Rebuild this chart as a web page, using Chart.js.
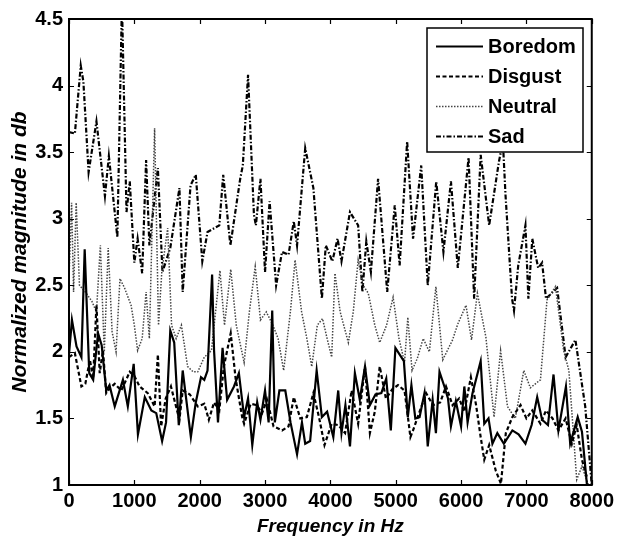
<!DOCTYPE html>
<html>
<head>
<meta charset="utf-8">
<script src="https://cdn.jsdelivr.net/npm/chart.js@4.4.0/dist/chart.umd.min.js"></script>
<style>
  html, body { margin: 0; padding: 0; background: #fff; }
  canvas { display: block; }
</style>
</head>
<body>
<canvas id="chart" width="618" height="541"></canvas>
<script>
// axis ticks
const xTicks = [0, 1000, 2000, 3000, 4000, 5000, 6000, 7000, 8000];
const yTicks = [1, 1.5, 2, 2.5, 3, 3.5, 4, 4.5];

// Boredom (solid)
const boredomFreq = [0, 45, 115, 190, 240, 310, 370, 445, 500, 570, 620, 700, 825, 900, 990, 1055, 1160, 1260, 1335, 1425,
  1485, 1550, 1610, 1680, 1740, 1790, 1865, 1940, 2020, 2070, 2120, 2190, 2220, 2280, 2350, 2420, 2525, 2600, 2680, 2740,
  2805, 2880, 2930, 3000, 3055, 3110, 3150, 3220, 3310, 3390, 3490, 3565, 3615, 3690, 3790, 3870, 3950, 4045, 4120, 4170,
  4230, 4300, 4375, 4450, 4530, 4605, 4690, 4780, 4855, 4925, 4995, 5125, 5185, 5240, 5300, 5365, 5440, 5490, 5565, 5615,
  5670, 5745, 5800, 5845, 5920, 6000, 6050, 6100, 6175, 6300, 6355, 6420, 6480, 6555, 6655, 6785, 6880, 6985, 7080, 7165,
  7240, 7330, 7415, 7490, 7605, 7670, 7785, 7850, 7925, 8000];
const boredomVals = [1.98, 2.24, 2.04, 1.96, 2.77, 1.84, 1.79, 2.14, 2.05, 1.71, 1.75, 1.59, 1.79, 1.59, 1.91, 1.38, 1.66, 1.56, 1.54, 1.33,
  1.47, 2.16, 2.07, 1.45, 1.86, 1.66, 1.36, 1.62, 1.81, 1.79, 1.86, 2.58, 2.01, 1.47, 2.03, 1.64, 1.74, 1.84, 1.51, 1.65,
  1.30, 1.62, 1.49, 1.71, 1.47, 2.31, 1.47, 1.71, 1.71, 1.47, 1.23, 1.47, 1.31, 1.33, 1.86, 1.51, 1.55, 1.36, 1.71, 1.39,
  1.60, 1.29, 1.84, 1.64, 1.89, 1.60, 1.68, 1.69, 1.80, 1.41, 2.03, 1.93, 1.51, 1.75, 1.50, 1.51, 1.69, 1.29, 1.64, 1.39,
  1.85, 1.74, 1.65, 1.44, 1.63, 1.44, 1.74, 1.47, 1.69, 1.93, 1.46, 1.50, 1.31, 1.39, 1.31, 1.41, 1.38, 1.31, 1.45, 1.66,
  1.49, 1.45, 1.83, 1.41, 1.74, 1.31, 1.51, 1.40, 1.01, 0.90];

// Disgust (dashed)
const disgustFreq = [0, 90, 190, 250, 320, 370, 420, 470, 520, 570, 630, 700, 800, 930, 1000, 1080, 1205, 1310, 1360, 1410,
  1480, 1560, 1690, 1740, 1850, 1970, 2070, 2140, 2220, 2300, 2370, 2475, 2550, 2650, 2680, 2780, 2870, 2955, 3030, 3130,
  3260, 3360, 3440, 3540, 3640, 3740, 3830, 3910, 4020, 4120, 4225, 4325, 4425, 4530, 4605, 4680, 4755, 4850, 4950, 5035,
  5135, 5225, 5265, 5465, 5570, 5680, 5770, 5870, 5970, 6050, 6150, 6230, 6300, 6355, 6430, 6530, 6610, 6685, 6785, 6910,
  7000, 7090, 7215, 7300, 7400, 7490, 7600, 7695, 7770, 7850, 7925];
const disgustVals = [1.96, 1.99, 1.74, 1.76, 1.94, 1.80, 2.35, 1.84, 2.01, 1.69, 1.73, 1.76, 1.71, 1.85, 1.82, 1.74, 1.69, 1.59, 1.98, 1.44,
  1.65, 1.74, 1.49, 1.71, 1.68, 1.59, 1.61, 1.49, 1.62, 1.56, 1.89, 2.14, 1.80, 1.51, 1.46, 1.61, 1.60, 1.54, 1.64, 1.44,
  1.41, 1.44, 1.66, 1.50, 1.51, 1.69, 1.50, 1.30, 1.46, 1.45, 1.39, 1.71, 1.46, 1.89, 1.39, 1.55, 1.89, 1.65, 1.72, 1.75,
  1.71, 1.36, 1.41, 1.69, 1.60, 1.62, 1.74, 1.60, 1.65, 1.55, 1.81, 1.60, 1.36, 1.19, 1.30, 1.11, 1.01, 1.39, 1.51, 1.60,
  1.50, 1.56, 1.46, 1.56, 1.50, 1.41, 1.50, 1.31, 1.45, 1.19, 1.06];

// Neutral (dotted)
const neutralFreq = [0, 40, 70, 110, 160, 250, 350, 420, 480, 540, 600, 660, 720, 780, 850, 950, 1000, 1050, 1120, 1180,
  1230, 1310, 1370, 1420, 1510, 1570, 1640, 1720, 1815, 1900, 1970, 2070, 2180, 2310, 2380, 2475, 2560, 2680, 2760, 2850,
  2930, 3020, 3120, 3200, 3285, 3390, 3460, 3560, 3640, 3715, 3800, 3880, 3950, 4020, 4070, 4150, 4275, 4350, 4425, 4500,
  4580, 4680, 4755, 4860, 4960, 5050, 5135, 5185, 5250, 5330, 5420, 5515, 5615, 5720, 5870, 5950, 6075, 6160, 6250, 6380,
  6505, 6605, 6710, 6830, 6960, 7060, 7215, 7315, 7445, 7570, 7650, 7770, 7850, 7950];
const neutralVals = [2.55, 3.12, 2.45, 3.12, 2.50, 2.45, 2.38, 2.30, 2.80, 2.00, 2.78, 2.15, 2.00, 2.55, 2.48, 2.35, 2.20, 2.01, 2.10, 2.45,
  2.10, 3.68, 2.20, 2.60, 2.93, 2.20, 2.10, 2.20, 1.89, 1.85, 1.85, 1.96, 2.01, 2.61, 2.20, 2.62, 2.20, 1.92, 2.30, 2.64,
  2.24, 2.30, 2.20, 2.10, 1.86, 2.31, 2.69, 2.30, 2.10, 1.89, 2.20, 2.25, 2.10, 1.96, 2.59, 2.30, 2.07, 2.30, 2.69, 2.50,
  2.44, 2.20, 2.07, 2.20, 2.41, 2.10, 1.92, 2.26, 1.86, 1.95, 2.10, 2.00, 2.49, 1.94, 2.09, 2.21, 2.35, 2.09, 2.44, 2.11,
  1.51, 2.01, 1.59, 1.50, 1.86, 1.73, 1.79, 2.39, 2.49, 2.01, 1.86, 1.04, 1.14, 1.00];

// Sad (dash-dot)
const sadFreq = [0, 90, 180, 220, 300, 420, 550, 610, 740, 810, 880, 930, 1000, 1050, 1120, 1180, 1230, 1360, 1430, 1550,
  1690, 1740, 1860, 1940, 2040, 2120, 2300, 2360, 2470, 2620, 2660, 2740, 2830, 2860, 2930, 3000, 3070, 3170, 3260, 3360,
  3440, 3490, 3615, 3740, 3870, 3930, 4030, 4110, 4170, 4300, 4425, 4490, 4550, 4620, 4730, 4870, 4985, 5060, 5175, 5265,
  5390, 5490, 5620, 5730, 5845, 5950, 6115, 6200, 6300, 6430, 6580, 6640, 6680, 6780, 6810, 6875, 6985, 7030, 7090, 7180,
  7240, 7300, 7470, 7600, 7750, 7900, 8000];
const sadVals = [3.65, 3.64, 4.15, 4.03, 3.35, 3.73, 3.17, 3.47, 2.86, 4.62, 3.05, 3.28, 2.67, 2.85, 2.59, 3.44, 2.80, 3.38, 2.60, 2.78,
  3.23, 2.45, 3.25, 3.33, 2.68, 2.90, 2.95, 3.33, 2.80, 3.30, 3.40, 4.08, 3.03, 2.95, 3.30, 2.60, 3.13, 2.50, 2.75, 2.73,
  2.98, 2.80, 3.53, 3.23, 2.40, 2.80, 2.68, 2.85, 2.68, 3.05, 2.95, 2.45, 2.83, 2.60, 3.30, 2.45, 3.10, 2.65, 3.58, 2.85,
  3.40, 2.50, 3.28, 2.75, 3.28, 2.63, 3.46, 2.40, 3.48, 2.95, 3.43, 3.58, 3.18, 2.40, 2.31, 2.65, 2.95, 2.40, 2.85, 2.63,
  2.67, 2.40, 2.48, 1.96, 2.09, 1.59, 1.00];

const seriesNames = ['Boredom', 'Disgust', 'Neutral', 'Sad'];

const FONT = 'Liberation Sans, Arial, Helvetica, sans-serif';

const toPoints = (fs, vs) => fs.map((f, i) => ({ x: f, y: vs[i] }));

const lineStyles = [
  { color: '#000', width: 2.2, dash: [] },
  { color: '#000', width: 2.2, dash: [4, 2.5] },
  { color: '#444', width: 1.5, dash: [1.5, 1.5] },
  { color: '#000', width: 2.2, dash: [5, 2, 1.5, 2] },
];

const makeSet = (name, fs, vs, st) => ({
  label: name,
  data: toPoints(fs, vs),
  borderColor: st.color,
  borderWidth: st.width,
  borderDash: st.dash,
  pointRadius: 0,
  tension: 0,
  fill: false,
});

// frame, inward ticks on all four sides, and the boxed legend
const matlabFrame = {
  id: 'matlabFrame',
  afterDatasetsDraw(chart) {
    const { ctx, chartArea: a, scales } = chart;
    ctx.save();
    ctx.strokeStyle = '#000';
    ctx.setLineDash([]);
    ctx.lineWidth = 1.2;
    const tl = 5;
    xTicks.forEach(t => {
      const px = Math.round(scales.x.getPixelForValue(t)) + 0.5;
      ctx.beginPath();
      ctx.moveTo(px, a.bottom); ctx.lineTo(px, a.bottom - tl);
      ctx.moveTo(px, a.top); ctx.lineTo(px, a.top + tl);
      ctx.stroke();
    });
    yTicks.forEach(t => {
      const py = Math.round(scales.y.getPixelForValue(t)) + 0.5;
      ctx.beginPath();
      ctx.moveTo(a.left, py); ctx.lineTo(a.left + tl, py);
      ctx.moveTo(a.right, py); ctx.lineTo(a.right - tl, py);
      ctx.stroke();
    });
    ctx.lineWidth = 2;
    ctx.strokeRect(a.left, a.top, a.right - a.left, a.bottom - a.top);

    // legend
    const lx = 427, ly = 28, lw = 156, lh = 124;
    ctx.fillStyle = '#fff';
    ctx.fillRect(lx, ly, lw, lh);
    ctx.lineWidth = 1.5;
    ctx.strokeRect(lx, ly, lw, lh);
    ctx.font = 'bold 20px ' + FONT;
    ctx.textBaseline = 'middle';
    ctx.textAlign = 'left';
    chart.data.datasets.forEach((ds, i) => {
      const y = ly + 18.5 + i * 30;
      ctx.strokeStyle = ds.borderColor;
      ctx.lineWidth = ds.borderWidth;
      ctx.setLineDash(ds.borderDash);
      ctx.beginPath();
      ctx.moveTo(436, y); ctx.lineTo(483, y);
      ctx.stroke();
      ctx.fillStyle = '#000';
      ctx.fillText(ds.label, 488, y + 1);
    });
    ctx.restore();
  }
};

new Chart(document.getElementById('chart'), {
  type: 'line',
  data: {
    datasets: [
      makeSet(seriesNames[0], boredomFreq, boredomVals, lineStyles[0]),
      makeSet(seriesNames[1], disgustFreq, disgustVals, lineStyles[1]),
      makeSet(seriesNames[2], neutralFreq, neutralVals, lineStyles[2]),
      makeSet(seriesNames[3], sadFreq, sadVals, lineStyles[3]),
    ]
  },
  options: {
    responsive: false,
    animation: false,
    devicePixelRatio: 1,
    layout: { padding: { top: 19, right: 23, left: 0, bottom: 0 } },
    plugins: {
      legend: { display: false },
      tooltip: { enabled: false }
    },
    scales: {
      x: {
        type: 'linear',
        min: 0,
        max: 8000,
        grid: { display: false, drawTicks: false },
        border: { display: false },
        afterBuildTicks: s => { s.ticks = xTicks.map(v => ({ value: v })); },
        afterFit: s => { s.height = 56; },
        ticks: {
          color: '#000',
          padding: 4,
          maxRotation: 0,
          font: { family: FONT, size: 20, weight: 'bold' },
          callback: v => String(v)
        },
        title: {
          display: true,
          text: 'Frequency in Hz',
          color: '#000',
          padding: { top: 0, bottom: 3 },
          font: { family: FONT, size: 19, weight: 'bold', style: 'italic' }
        }
      },
      y: {
        type: 'linear',
        min: 1,
        max: 4.5,
        grid: { display: false, drawTicks: false },
        border: { display: false },
        afterBuildTicks: s => { s.ticks = yTicks.map(v => ({ value: v })); },
        afterFit: s => { s.width = 69; },
        ticks: {
          color: '#000',
          padding: 6,
          font: { family: FONT, size: 20, weight: 'bold' },
          callback: v => String(v)
        },
        title: {
          display: true,
          text: 'Normalized magnitude in db',
          color: '#000',
          padding: { top: 8, bottom: 0 },
          font: { family: FONT, size: 21, weight: 'bold', style: 'italic' }
        }
      }
    }
  },
  plugins: [matlabFrame]
});
</script>
</body>
</html>
